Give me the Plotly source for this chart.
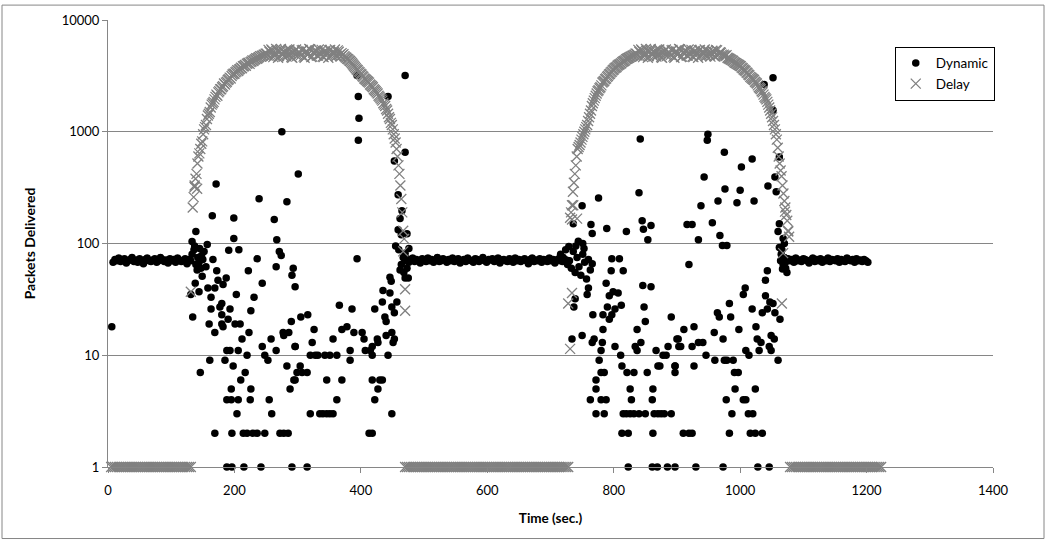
import plotly.graph_objects as go

# ---------------- data ----------------
SAMPLE_STEP = 3  # seconds between consecutive samples of a regular segment

# Dynamic: steady-state segments (start time, values every SAMPLE_STEP s)
dynamic_flat1_start = 8
dynamic_flat1 = [68, 72, 70, 74, 69, 71, 73, 67, 70, 72,
                 75, 69, 71, 68, 73, 70, 66, 72, 74, 70,
                 69, 71, 73, 68, 70, 75, 72, 69, 71, 67,
                 73, 70, 72, 68, 74, 71, 69, 70, 73, 66,
                 72, 70]
dynamic_flat2_start = 470
dynamic_flat2 = [70, 73, 68, 71, 74, 69, 72, 70, 67, 73,
                 71, 69, 74, 70, 72, 68, 71, 75, 69, 70,
                 73, 71, 68, 72, 70, 74, 69, 71, 73, 67,
                 70, 72, 69, 74, 71, 70, 68, 73, 72, 69,
                 71, 75, 70, 68, 72, 71, 73, 69, 70, 74,
                 67, 71, 72, 70, 69, 73, 71, 68, 74, 70,
                 72, 69, 71, 73, 70, 66, 72, 74, 69, 71,
                 70, 73, 68, 72, 71, 69, 74, 70, 72, 67,
                 71, 73, 70, 69, 72, 71, 70]
dynamic_flat3_start = 1070
dynamic_flat3 = [71, 69, 73, 70, 72, 68, 74, 70, 71, 69,
                 73, 72, 70, 67, 71, 74, 69, 72, 70, 73,
                 68, 71, 70, 74, 69, 72, 71, 70, 73, 68,
                 72, 70, 69, 74, 71, 70, 72, 68, 73, 70,
                 71, 69, 72, 70, 68]

# Dynamic: scattered samples (time, packets)
dynamic_scatter = [
    (6, 18),
    # first disturbance
    (133, 80), (136, 88), (139, 65), (142, 75), (145, 90), (147, 60), (150, 72),
    (152, 85), (155, 62), (137, 95), (141, 58), (148, 78), (144, 68),
    (171, 341), (239, 251), (283, 236), (165, 177), (199, 169), (263, 164), (139, 128),
    (199, 111), (267, 108), (133, 104), (157, 98), (191, 87), (207, 88), (271, 85),
    (274, 78), (236, 73), (222, 57), (266, 62), (293, 60), (291, 52), (166, 72),
    (172, 57), (149, 51), (187, 49), (174, 47), (182, 43), (244, 44), (296, 41),
    (138, 44), (131, 35), (144, 37), (158, 40), (169, 40), (203, 35), (231, 33),
    (163, 33), (180, 29), (177, 27), (193, 26), (163, 26), (226, 25), (134, 22),
    (180, 23), (190, 21), (160, 19), (180, 19), (182, 18), (201, 19), (209, 19),
    (169, 16), (223, 16), (212, 14), (290, 20), (277, 16), (286, 16), (278, 15),
    (258, 14), (296, 12), (244, 12), (266, 11), (188, 11), (193, 11), (206, 11),
    (220, 10), (248, 10), (253, 9), (161, 9), (185, 9), (198, 8), (146, 7), (217, 7),
    (210, 6), (283, 8), (299, 7), (294, 6), (195, 5), (226, 5), (288, 5), (188, 4),
    (195, 4), (206, 4), (225, 4), (255, 4), (204, 3), (259, 3), (169, 2), (196, 2),
    (214, 2), (220, 2), (229, 2), (236, 2), (248, 2), (272, 2), (278, 2), (285, 2),
    (188, 1), (196, 1), (215, 1), (242, 1), (291, 1), (275, 1000),
    (470, 3180), (394, 3180), (396, 2070), (443, 2070), (397, 1320), (396, 840),
    (470, 657), (453, 547), (301, 419), (459, 273), (465, 196), (462, 167), (459, 133),
    (464, 120), (473, 122), (394, 73), (470, 49), (475, 49), (446, 50), (448, 46),
    (435, 38), (446, 36), (434, 30), (457, 30), (449, 27), (453, 24), (438, 22),
    (440, 20), (440, 15), (449, 16), (453, 14), (451, 13), (422, 26), (386, 26),
    (366, 28), (305, 22), (316, 23), (326, 17), (323, 13), (370, 17), (378, 18),
    (356, 14), (389, 16), (402, 16), (405, 14), (426, 14), (427, 13), (418, 12),
    (407, 11), (415, 11), (418, 10), (383, 11), (383, 9), (320, 10), (328, 10),
    (332, 10), (343, 10), (351, 10), (362, 10), (443, 10), (296, 12), (304, 8),
    (315, 7), (307, 7), (296, 6), (346, 6), (370, 6), (418, 6), (430, 6), (434, 6),
    (362, 4), (427, 5), (422, 4), (320, 3), (335, 3), (340, 3), (346, 3), (351, 3),
    (356, 3), (449, 3), (413, 2), (418, 2), (315, 1),
    (455, 95), (460, 88), (464, 65), (467, 75), (470, 82), (473, 60), (476, 90),
    (462, 58), (468, 55),
    # second disturbance
    (716, 80), (720, 75), (724, 88), (727, 65), (730, 70), (733, 60), (736, 85),
    (739, 55), (742, 75), (745, 62), (748, 52), (751, 80), (754, 68), (757, 48),
    (760, 72), (763, 58), (766, 66), (740, 95), (744, 105),
    (840, 284), (776, 255), (750, 218), (736, 150), (764, 148), (766, 123), (789, 136),
    (820, 128), (845, 160), (847, 134), (859, 145), (854, 108), (729, 94), (751, 100),
    (753, 90), (797, 73), (809, 73), (796, 57), (815, 57), (788, 44), (846, 42),
    (859, 41), (760, 40), (758, 35), (799, 37), (807, 36), (793, 34), (739, 32),
    (737, 27), (812, 28), (802, 26), (790, 27), (783, 23), (797, 23), (793, 21),
    (848, 27), (850, 20), (891, 22), (767, 23), (837, 17), (783, 17), (734, 14),
    (750, 15), (769, 14), (766, 13), (782, 13), (802, 12), (780, 11), (834, 12),
    (843, 13), (837, 11), (867, 11), (886, 12), (900, 14), (903, 12), (811, 10),
    (777, 9), (878, 10), (883, 10), (813, 8), (870, 8), (873, 8), (897, 8), (780, 7),
    (785, 7), (821, 7), (832, 7), (853, 7), (897, 7), (772, 6), (772, 5), (826, 5),
    (862, 5), (763, 4), (780, 4), (788, 4), (828, 4), (861, 4), (772, 3), (785, 3),
    (815, 3), (820, 3), (826, 3), (832, 3), (840, 3), (850, 3), (864, 3), (870, 3),
    (875, 3), (880, 3), (891, 3), (813, 2), (823, 2), (862, 2), (823, 1), (861, 1),
    (869, 1), (885, 1), (897, 1), (842, 860),
    (1052, 3050), (1038, 2650), (1052, 1560), (949, 950), (948, 840), (975, 657),
    (1019, 570), (1002, 483), (943, 394), (1062, 594), (1055, 394), (1044, 327),
    (1057, 290), (976, 307), (1000, 300), (938, 218), (965, 240), (995, 232),
    (1022, 240), (916, 148), (924, 148), (956, 153), (934, 108), (968, 118), (972, 96),
    (979, 96), (1062, 150), (1060, 128), (1068, 111), (919, 65), (1043, 57),
    (1040, 47), (1067, 59), (1008, 40), (1005, 35), (983, 29), (964, 24), (967, 22),
    (985, 22), (1019, 26), (1040, 34), (1047, 30), (1052, 29), (1035, 24), (1043, 26),
    (1055, 24), (1063, 21), (911, 17), (927, 18), (902, 14), (906, 12), (924, 12),
    (934, 13), (941, 13), (946, 10), (959, 16), (973, 14), (998, 17), (1025, 18),
    (1027, 14), (1033, 13), (1049, 15), (1046, 12), (1054, 14), (1049, 11), (1030, 11),
    (1009, 11), (1014, 10), (1060, 9), (960, 9), (975, 9), (979, 9), (989, 9), (897, 8),
    (927, 8), (991, 7), (997, 7), (992, 5), (1024, 5), (978, 4), (1005, 4), (1009, 4),
    (987, 3), (1013, 3), (1020, 3), (910, 2), (919, 2), (924, 2), (983, 2), (1016, 2),
    (1024, 2), (1035, 2), (930, 1), (973, 1), (1028, 1), (1046, 1),
    (1062, 92), (1065, 80), (1068, 65), (1070, 75), (1072, 60), (1066, 88),
    (1070, 100), (1074, 55), (1064, 70),
]

# Delay: regular segments (start time, values every SAMPLE_STEP s)
delay_seg1_start = 5
delay_seg1 = [1, 1, 1, 1, 1, 1, 1, 1, 1, 1,
              1, 1, 1, 1, 1, 1, 1, 1, 1, 1,
              1, 1, 1, 1, 1, 1, 1, 1, 1, 1,
              1, 1, 1, 1, 1, 1, 1, 1, 1, 1,
              1, 1, 1]
delay_seg2_start = 134
delay_seg2 = [210, 330, 420, 600, 700, 820, 1050, 1150, 1400, 1500,
              1750, 1850, 2050, 2100, 2300, 2400, 2550, 2650, 2800, 2950,
              3000, 3250, 3300, 3450, 3500, 3650, 3700, 3850, 3900, 4100,
              4050, 4250, 4300, 4450, 4500, 4650, 4700, 4800, 4900,
              5000, 5400, 4700, 5300, 4800, 5500, 4600, 5200, 5050, 4700,
              5350, 4900, 5450, 4650, 5100, 5300, 4750, 5200, 4850, 5400,
              4600, 5250, 4950, 5450, 4700, 5150, 5350, 4800, 5000, 5400,
              4650, 5250, 4900, 5350, 4750, 5100, 5450, 4800, 5200, 4700,
              4850, 4750, 4600, 4450, 4300, 4100, 3900, 3700, 3550, 3400,
              3250, 3100, 2950, 2850, 2750, 2600, 2500, 2350, 2250, 2100,
              2000, 1900, 1750, 1600, 1450, 1300, 1150, 950, 800, 600,
              420, 250, 130]
delay_seg2b_start = 135.5
delay_seg2b = [260, 380, 520, 640, 780, 950, 1100, 1300, 1450, 1650,
               1800, 1950, 2150, 2250, 2400, 2500, 2700, 2750, 2900, 3050,
               3150, 3300, 3400, 3550, 3600, 3750, 3850, 3950, 4050, 4150,
               4200, 4350, 4400, 4550, 4600, 4750, 4800, 4900, 5000,
               4800, 5200, 5450, 4650, 5050, 5300, 4750, 5500, 4900, 5150,
               4700, 5400, 5000, 4600, 5250, 5450, 4850, 5050, 5350, 4700,
               5200, 4900, 5500, 4650, 5100, 5300, 4800, 5450, 4950, 4700,
               5250, 5050, 4600, 5400, 4850, 5150, 4750, 5350, 4900, 5050,
               4950, 4650, 4500, 4350, 4200, 4000, 3800, 3600, 3450, 3300,
               3150, 3000, 2900, 2800, 2650, 2550, 2400, 2300, 2200, 2050,
               1950, 1800, 1700, 1550, 1350, 1200, 1050, 870, 700, 500,
               330, 190, 110]
delay_seg3_start = 470
delay_seg3 = [1, 1, 1, 1, 1, 1, 1, 1, 1, 1,
              1, 1, 1, 1, 1, 1, 1, 1, 1, 1,
              1, 1, 1, 1, 1, 1, 1, 1, 1, 1,
              1, 1, 1, 1, 1, 1, 1, 1, 1, 1,
              1, 1, 1, 1, 1, 1, 1, 1, 1, 1,
              1, 1, 1, 1, 1, 1, 1, 1, 1, 1,
              1, 1, 1, 1, 1, 1, 1, 1, 1, 1,
              1, 1, 1, 1, 1, 1, 1, 1, 1, 1,
              1, 1, 1, 1, 1, 1, 1]
delay_seg4_start = 731
delay_seg4 = [170, 220, 350, 500, 700, 760, 850, 950, 1050, 1150,
              1350, 1550, 1800, 2000, 2200, 2350, 2500, 2750, 2850, 3000,
              3150, 3300, 3450, 3600, 3750, 3900, 4000, 4100, 4250, 4350,
              4500, 4600, 4700, 4800, 4900,
              5000, 5400, 4700, 5300, 4800, 5500, 4600, 5200, 5050, 4700,
              5350, 4900, 5450, 4650, 5100, 5300, 4750, 5200, 4850, 5400,
              4600, 5250, 4950, 5450, 4700, 5150, 5350, 4800, 5000, 5400,
              4650, 5250, 4900, 5350, 4750, 5100, 5450, 4800, 5200, 4700,
              5300, 4750, 5400, 4850, 5150, 4900,
              4900, 4750, 4600, 4500, 4400, 4300, 4150, 4050, 3950, 3850,
              3700, 3550, 3400, 3250, 3100, 3000, 2900, 2750, 2600, 2450,
              2300, 2150, 2000, 1850, 1650, 1450, 1250, 1050, 850, 600,
              450, 330, 240, 180, 130]
delay_seg4b_start = 732.5
delay_seg4b = [190, 290, 420, 600, 730, 800, 900, 1000, 1100, 1250,
               1450, 1700, 1900, 2100, 2300, 2450, 2600, 2800, 2950, 3100,
               3250, 3400, 3550, 3700, 3800, 3950, 4050, 4200, 4300, 4450,
               4550, 4650, 4750, 4850, 5000,
               4800, 5200, 5450, 4650, 5050, 5300, 4750, 5500, 4900, 5150,
               4700, 5400, 5000, 4600, 5250, 5450, 4850, 5050, 5350, 4700,
               5200, 4900, 5500, 4650, 5100, 5300, 4800, 5450, 4950, 4700,
               5250, 5050, 4600, 5400, 4850, 5150, 4750, 5350, 4900, 5050,
               5200, 4700, 5350, 4950, 5100, 4800,
               4800, 4850, 4550, 4450, 4350, 4200, 4100, 4000, 3900, 3750,
               3600, 3500, 3350, 3200, 3050, 2950, 2800, 2700, 2500, 2400,
               2250, 2050, 1950, 1750, 1550, 1350, 1150, 950, 720, 520,
               400, 280, 210, 160, 115]
delay_seg5_start = 1079
delay_seg5 = [1, 1, 1, 1, 1, 1, 1, 1, 1, 1,
              1, 1, 1, 1, 1, 1, 1, 1, 1, 1,
              1, 1, 1, 1, 1, 1, 1, 1, 1, 1,
              1, 1, 1, 1, 1, 1, 1, 1, 1, 1,
              1, 1, 1, 1, 1, 1, 1, 1, 1]
# Delay: isolated samples at the edges of the disturbances (time, packets)
delay_scatter = [(131, 37), (137, 320), (141, 309), (467, 85), (470, 39), (470, 25),
                 (728, 29), (731, 11.4), (734, 36), (734, 164), (742, 167), (736, 220),
                 (1066, 29), (1068, 82), (1071, 193), (1076, 128)]

x_ticks = [0, 200, 400, 600, 800, 1000, 1200, 1400]
y_ticks = [1, 10, 100, 1000, 10000]
y_tick_labels = ["1", "10", "100", "1000", "10000"]

# ---------------- assemble series ----------------
def expand(segments):
    ts, vs = [], []
    for start, values in segments:
        for i, v in enumerate(values):
            ts.append(start + SAMPLE_STEP * i)
            vs.append(v)
    return ts, vs

dyn_t, dyn_v = expand([(dynamic_flat1_start, dynamic_flat1),
                       (dynamic_flat2_start, dynamic_flat2),
                       (dynamic_flat3_start, dynamic_flat3)])
dyn_t += [p[0] for p in dynamic_scatter]
dyn_v += [p[1] for p in dynamic_scatter]

del_t, del_v = expand([(delay_seg1_start, delay_seg1), (delay_seg2_start, delay_seg2),
                       (delay_seg2b_start, delay_seg2b),
                       (delay_seg3_start, delay_seg3), (delay_seg4_start, delay_seg4),
                       (delay_seg4b_start, delay_seg4b),
                       (delay_seg5_start, delay_seg5)])
del_t += [p[0] for p in delay_scatter]
del_v += [p[1] for p in delay_scatter]

GRID = "#868686"
FONT = "Lato, Open Sans, sans-serif"

fig = go.Figure()
fig.add_trace(go.Scatter(
    x=dyn_t, y=dyn_v, mode="markers", name="Dynamic", cliponaxis=False,
    marker=dict(symbol="circle", size=7.5, color="#000000", line=dict(width=0)),
))
fig.add_trace(go.Scatter(
    x=del_t, y=del_v, mode="markers", name="Delay", cliponaxis=False,
    marker=dict(symbol="x-thin", size=10, color="#808080",
                line=dict(width=1.3, color="#808080")),
))

fig.update_layout(
    width=1047, height=544,
    margin=dict(l=108, r=54, t=17, b=77),
    paper_bgcolor="white", plot_bgcolor="white",
    font=dict(family=FONT, size=13, color="#000000"),
    showlegend=True,
    legend=dict(
        x=1.002, y=0.94, xanchor="right", yanchor="top",
        bordercolor="#000000", borderwidth=1, bgcolor="white",
        font=dict(family=FONT, size=13.5), itemwidth=30,
        tracegroupgap=4,
    ),
    xaxis=dict(
        range=[0, 1400], tickvals=x_ticks, showgrid=False, zeroline=False,
        showline=True, linecolor=GRID, linewidth=1,
        ticks="outside", ticklen=5, tickcolor=GRID,
        tickfont=dict(family=FONT, size=13), ticklabelstandoff=6,
        title=dict(text="<b>Time (sec.)</b>", font=dict(family=FONT, size=13.5), standoff=16),
    ),
    yaxis=dict(
        type="log", range=[0, 4], tickvals=y_ticks, ticktext=y_tick_labels,
        showgrid=True, gridcolor=GRID, gridwidth=1, zeroline=False,
        showline=True, linecolor=GRID, linewidth=1,
        ticks="outside", ticklen=5, tickcolor=GRID,
        tickfont=dict(family=FONT, size=13),
        title=dict(text="<b>Packets Delivered</b>", font=dict(family=FONT, size=14), standoff=22),
    ),
    shapes=[dict(type="rect", xref="paper", yref="paper",
                 x0=-106 / 885, x1=936 / 885, y0=-72 / 450, y1=465 / 450,
                 line=dict(color="#868686", width=1), fillcolor="rgba(0,0,0,0)",
                 layer="below")],
)

fig.write_html("out.html")
